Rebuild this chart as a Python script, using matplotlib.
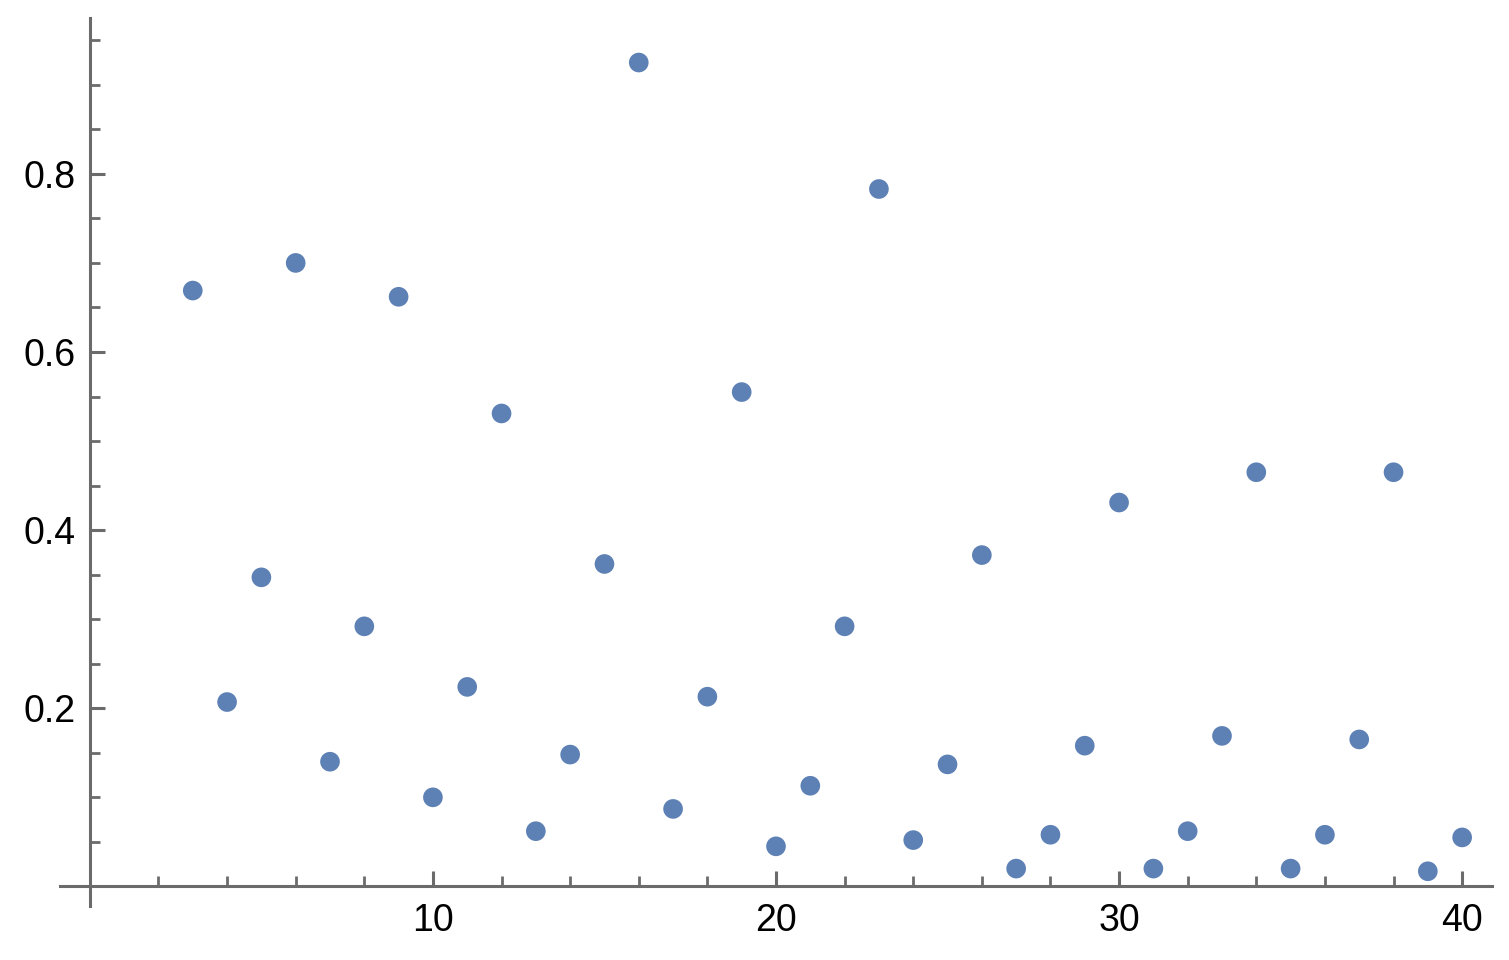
import matplotlib.pyplot as plt
from matplotlib.ticker import MultipleLocator

n_values = list(range(3, 41))
y_values = [0.669, 0.207, 0.347, 0.700, 0.140, 0.292, 0.662, 0.100, 0.224, 0.531,
            0.062, 0.148, 0.362, 0.925, 0.087, 0.213, 0.555, 0.045, 0.113, 0.292,
            0.783, 0.052, 0.137, 0.372, 0.020, 0.058, 0.158, 0.431, 0.020, 0.062,
            0.169, 0.465, 0.020, 0.058, 0.165, 0.465, 0.017, 0.055]

x_major = [10, 20, 30, 40]
y_major = [0.2, 0.4, 0.6, 0.8]

plt.rcParams['font.family'] = ['Liberation Sans', 'DejaVu Sans']

fig = plt.figure(figsize=(15.09, 9.6), dpi=100)
ax = fig.add_axes([60 / 1509, 54 / 960, 1432 / 1509, 888 / 960])

ax.scatter(n_values, y_values, s=200, color='#5E81B5', edgecolors='none', zorder=3)

ax.set_xlim(-0.87, 40.87)
ax.set_ylim(-0.022, 0.975)

for side in ['top', 'right']:
    ax.spines[side].set_visible(False)
ax.spines['left'].set_position(('data', 0))
ax.spines['bottom'].set_position(('data', 0))
for side in ['left', 'bottom']:
    ax.spines[side].set_color('#6b6b6b')
    ax.spines[side].set_linewidth(2.2)

ax.set_xticks(x_major)
ax.set_xticklabels([str(v) for v in x_major])
ax.set_yticks(y_major)
ax.set_yticklabels([f'{v:.1f}' for v in y_major])
ax.xaxis.set_minor_locator(MultipleLocator(2))
ax.yaxis.set_minor_locator(MultipleLocator(0.05))

ax.tick_params(which='major', direction='in', length=11, width=2.2, color='#6b6b6b',
               labelsize=27, labelcolor='black')
ax.tick_params(which='minor', direction='in', length=7, width=2.0, color='#6b6b6b')
ax.tick_params(axis='x', which='major', pad=12)
ax.tick_params(axis='y', which='major', pad=10)

fig.savefig('out.png', dpi=100)
